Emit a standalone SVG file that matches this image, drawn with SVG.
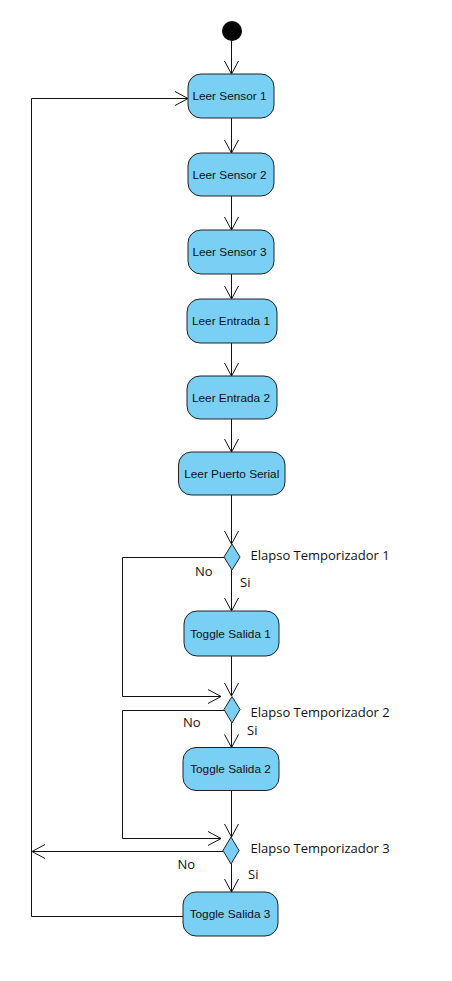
<svg xmlns="http://www.w3.org/2000/svg" width="452" height="981" viewBox="0 0 452 981">
<style>
.box{fill:#7acff5;stroke:#222;stroke-width:1}
.bt{font-family:"Liberation Sans",Arial,sans-serif;font-size:11.8px;fill:#111;text-anchor:middle}
.lbl{font-family:"Open Sans","Noto Sans",sans-serif;font-size:13px;fill:#111}
.c{fill:none;stroke:#111;stroke-width:1}
</style>
<defs>
<marker id="ah" viewBox="-15 -9 17 18" refX="0" refY="0" markerWidth="17" markerHeight="18" markerUnits="userSpaceOnUse" orient="auto">
<path d="M-13,-7 L0,0 L-13,7" fill="none" stroke="#111" stroke-width="1"/>
</marker>
</defs>
<rect width="452" height="981" fill="#fff"/>
<g id="connectors">
<line class="c" x1="231.5" y1="41" x2="231.5" y2="74" marker-end="url(#ah)"/>
<line class="c" x1="231.5" y1="118" x2="231.5" y2="153" marker-end="url(#ah)"/>
<line class="c" x1="231.5" y1="196" x2="231.5" y2="230" marker-end="url(#ah)"/>
<line class="c" x1="231.5" y1="274" x2="231.5" y2="299" marker-end="url(#ah)"/>
<line class="c" x1="231.5" y1="343" x2="231.5" y2="376" marker-end="url(#ah)"/>
<line class="c" x1="231.5" y1="419" x2="231.5" y2="452" marker-end="url(#ah)"/>
<line class="c" x1="231.5" y1="495" x2="231.5" y2="544" marker-end="url(#ah)"/>
<line class="c" x1="231.5" y1="570" x2="231.5" y2="611" marker-end="url(#ah)"/>
<line class="c" x1="231.5" y1="656" x2="231.5" y2="696" marker-end="url(#ah)"/>
<polyline class="c" points="224,557.5 122.5,557.5 122.5,696.5 221,696.5" marker-end="url(#ah)"/>
<line class="c" x1="231.5" y1="723" x2="231.5" y2="747.5" marker-end="url(#ah)"/>
<line class="c" x1="231.5" y1="790.5" x2="231.5" y2="837" marker-end="url(#ah)"/>
<polyline class="c" points="224,710.5 122.5,710.5 122.5,838.5 221,838.5" marker-end="url(#ah)"/>
<line class="c" x1="231.5" y1="864" x2="231.5" y2="892" marker-end="url(#ah)"/>
<line class="c" x1="223" y1="851.5" x2="32" y2="851.5" marker-end="url(#ah)"/>
<polyline class="c" points="183,916.5 31.5,916.5 31.5,98.5 188,98.5" marker-end="url(#ah)"/>
</g>
<g id="start"><circle cx="232" cy="31" r="10" fill="#000"/></g>
<g id="n1"><rect class="box" x="188" y="74" width="86" height="44" rx="13"/><text class="bt" x="229.5" y="100">Leer Sensor 1</text></g>
<g id="n2"><rect class="box" x="188" y="153" width="86" height="43" rx="13"/><text class="bt" x="229.5" y="178.5">Leer Sensor 2</text></g>
<g id="n3"><rect class="box" x="188" y="230" width="86" height="44" rx="13"/><text class="bt" x="229.5" y="256">Leer Sensor 3</text></g>
<g id="n4"><rect class="box" x="187" y="299" width="90" height="44" rx="13"/><text class="bt" x="231" y="325">Leer Entrada 1</text></g>
<g id="n5"><rect class="box" x="187" y="376" width="90" height="43" rx="13"/><text class="bt" x="231" y="401.5">Leer Entrada 2</text></g>
<g id="n6"><rect class="box" x="178.5" y="452" width="106.5" height="43" rx="13"/><text class="bt" x="231.75" y="477.5">Leer Puerto Serial</text></g>
<g id="d1"><polygon class="box" points="232,544 240,557 232,570 224,557"/><text class="lbl" x="250.5" y="560">Elapso Temporizador 1</text><text class="lbl" x="195" y="576">No</text><text class="lbl" x="240" y="587">Si</text></g>
<g id="t1"><rect class="box" x="184" y="611" width="95" height="45" rx="13"/><text class="bt" x="230.5" y="637.5">Toggle Salida 1</text></g>
<g id="d2"><polygon class="box" points="232,696.5 240,709.5 232,723 224,709.5"/><text class="lbl" x="250.5" y="717">Elapso Temporizador 2</text><text class="lbl" x="183" y="727">No</text><text class="lbl" x="247" y="735">Si</text></g>
<g id="t2"><rect class="box" x="183" y="747.5" width="96" height="43" rx="13"/><text class="bt" x="230.5" y="773">Toggle Salida 2</text></g>
<g id="d3"><polygon class="box" points="231,837 239,850.5 231,864 223,850.5"/><text class="lbl" x="250.5" y="853">Elapso Temporizador 3</text><text class="lbl" x="177.5" y="869">No</text><text class="lbl" x="248" y="879">Si</text></g>
<g id="t3"><rect class="box" x="183" y="892" width="95" height="44" rx="13"/><text class="bt" x="230" y="918">Toggle Salida 3</text></g>
</svg>
